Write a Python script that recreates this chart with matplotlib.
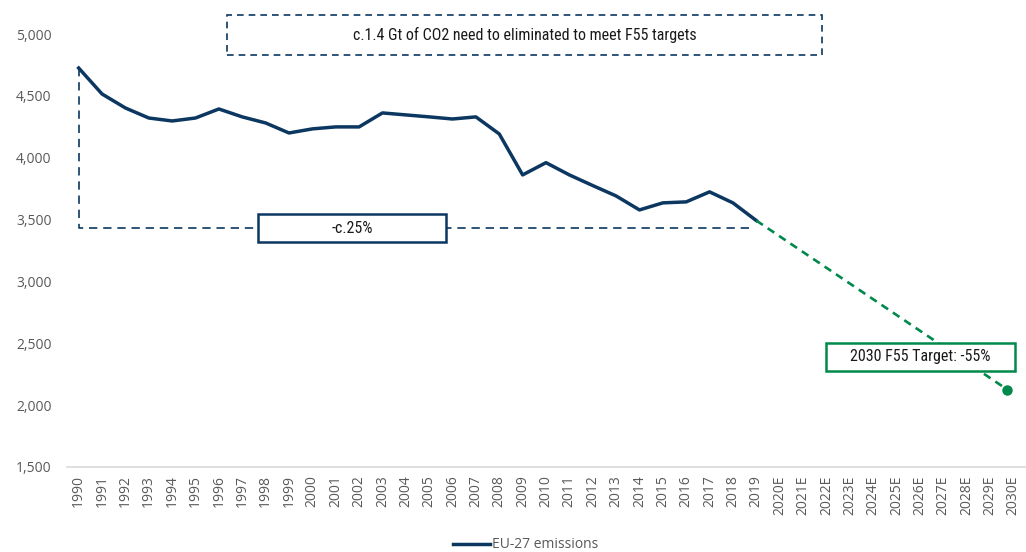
import matplotlib
matplotlib.use("Agg")
import matplotlib.pyplot as plt
from matplotlib.patches import Rectangle
from matplotlib.lines import Line2D

years = [str(y) for y in range(1990, 2020)] + [f"{y}E" for y in range(2020, 2031)]
emissions = [4725, 4515, 4402, 4321, 4297, 4321, 4394, 4330, 4281, 4200,
             4233, 4249, 4249, 4362, 4346, 4330, 4313, 4330, 4192, 3861,
             3960, 3861, 3775, 3691, 3578, 3635, 3643, 3724, 3635, 3492]
target_2030 = 2125
ref_level = 3430
yticks = [1500, 2000, 2500, 3000, 3500, 4000, 4500, 5000]

NAVY = "#0b3761"
GREEN = "#00894b"
GRAY = "#595959"
W, H = 1026, 552
TXT = ["Liberation Sans Narrow", "Roboto Condensed", "Roboto", "DejaVu Sans"]
TICK = ["Open Sans", "DejaVu Sans"]

fig = plt.figure(figsize=(W / 100, H / 100), dpi=100)
ax = fig.add_axes([67 / W, 1 - 467 / H, (1025 - 67) / W, (467 - 34) / H])

x = list(range(len(emissions)))
ax.plot(x, emissions, color=NAVY, lw=2.5, solid_joinstyle="round")
i19 = len(emissions) - 1
i30 = len(years) - 1
ax.plot([i19, i30 - 0.25], [emissions[-1], target_2030], color=GREEN, lw=1.9,
        ls=(0, (3, 2.2)))
ax.plot([i30 - 0.25], [target_2030], "o", color=GREEN, ms=6.5)

# bracket
ax.plot([0, 0, 28.7], [emissions[0], ref_level, ref_level], color=NAVY, lw=1.2,
        ls=(0, (5, 3.5)), clip_on=False)

ax.set_xlim(-0.5, len(years) - 0.5)
ax.set_ylim(1500, 5000)
ax.set_yticks(yticks)
ax.set_yticklabels([f"{v:,}" for v in yticks], fontsize=10, color=GRAY, family=TICK)
ax.set_xticks(range(len(years)))
ax.set_xticklabels(years, rotation=90, fontsize=10, color=GRAY, family=TICK)
ax.tick_params(length=0, pad=6)
ax.tick_params(axis="y", pad=11)
for s in ["top", "right", "left"]:
    ax.spines[s].set_visible(False)
ax.spines["bottom"].set_color("#d9d9d9")
ax.spines["bottom"].set_linewidth(1.2)


def box(x0, y0, x1, y1, ec, ls, lw, text):
    r = Rectangle((x0 / W, 1 - y1 / H), (x1 - x0) / W, (y1 - y0) / H,
                  transform=fig.transFigure, facecolor="white", edgecolor=ec,
                  lw=lw, ls=ls, zorder=5)
    fig.add_artist(r)
    fig.text((x0 + x1) / 2 / W, 1 - (y0 + y1) / 2 / H, text, ha="center",
             va="center", fontsize=11.5, color="#1a1a1a", family=TXT, zorder=6)


box(227, 15, 822, 55, NAVY, (0, (4, 3)), 1.2,
    "c.1.4 Gt of CO2 need to eliminated to meet F55 targets")
box(258, 214, 446, 242, NAVY, "-", 1.8, "-c.25%")
box(826, 343, 1015, 371, GREEN, "-", 1.8, "2030 F55 Target: -55%")

# legend
fig.add_artist(Line2D([453 / W, 490 / W], [1 - 544 / H] * 2, color=NAVY, lw=2.5,
                      transform=fig.transFigure))
fig.text(492 / W, 1 - 544 / H, "EU-27 emissions", ha="left", va="center",
         fontsize=10, color=GRAY, family=TICK)

fig.savefig("out.png", dpi=100)
